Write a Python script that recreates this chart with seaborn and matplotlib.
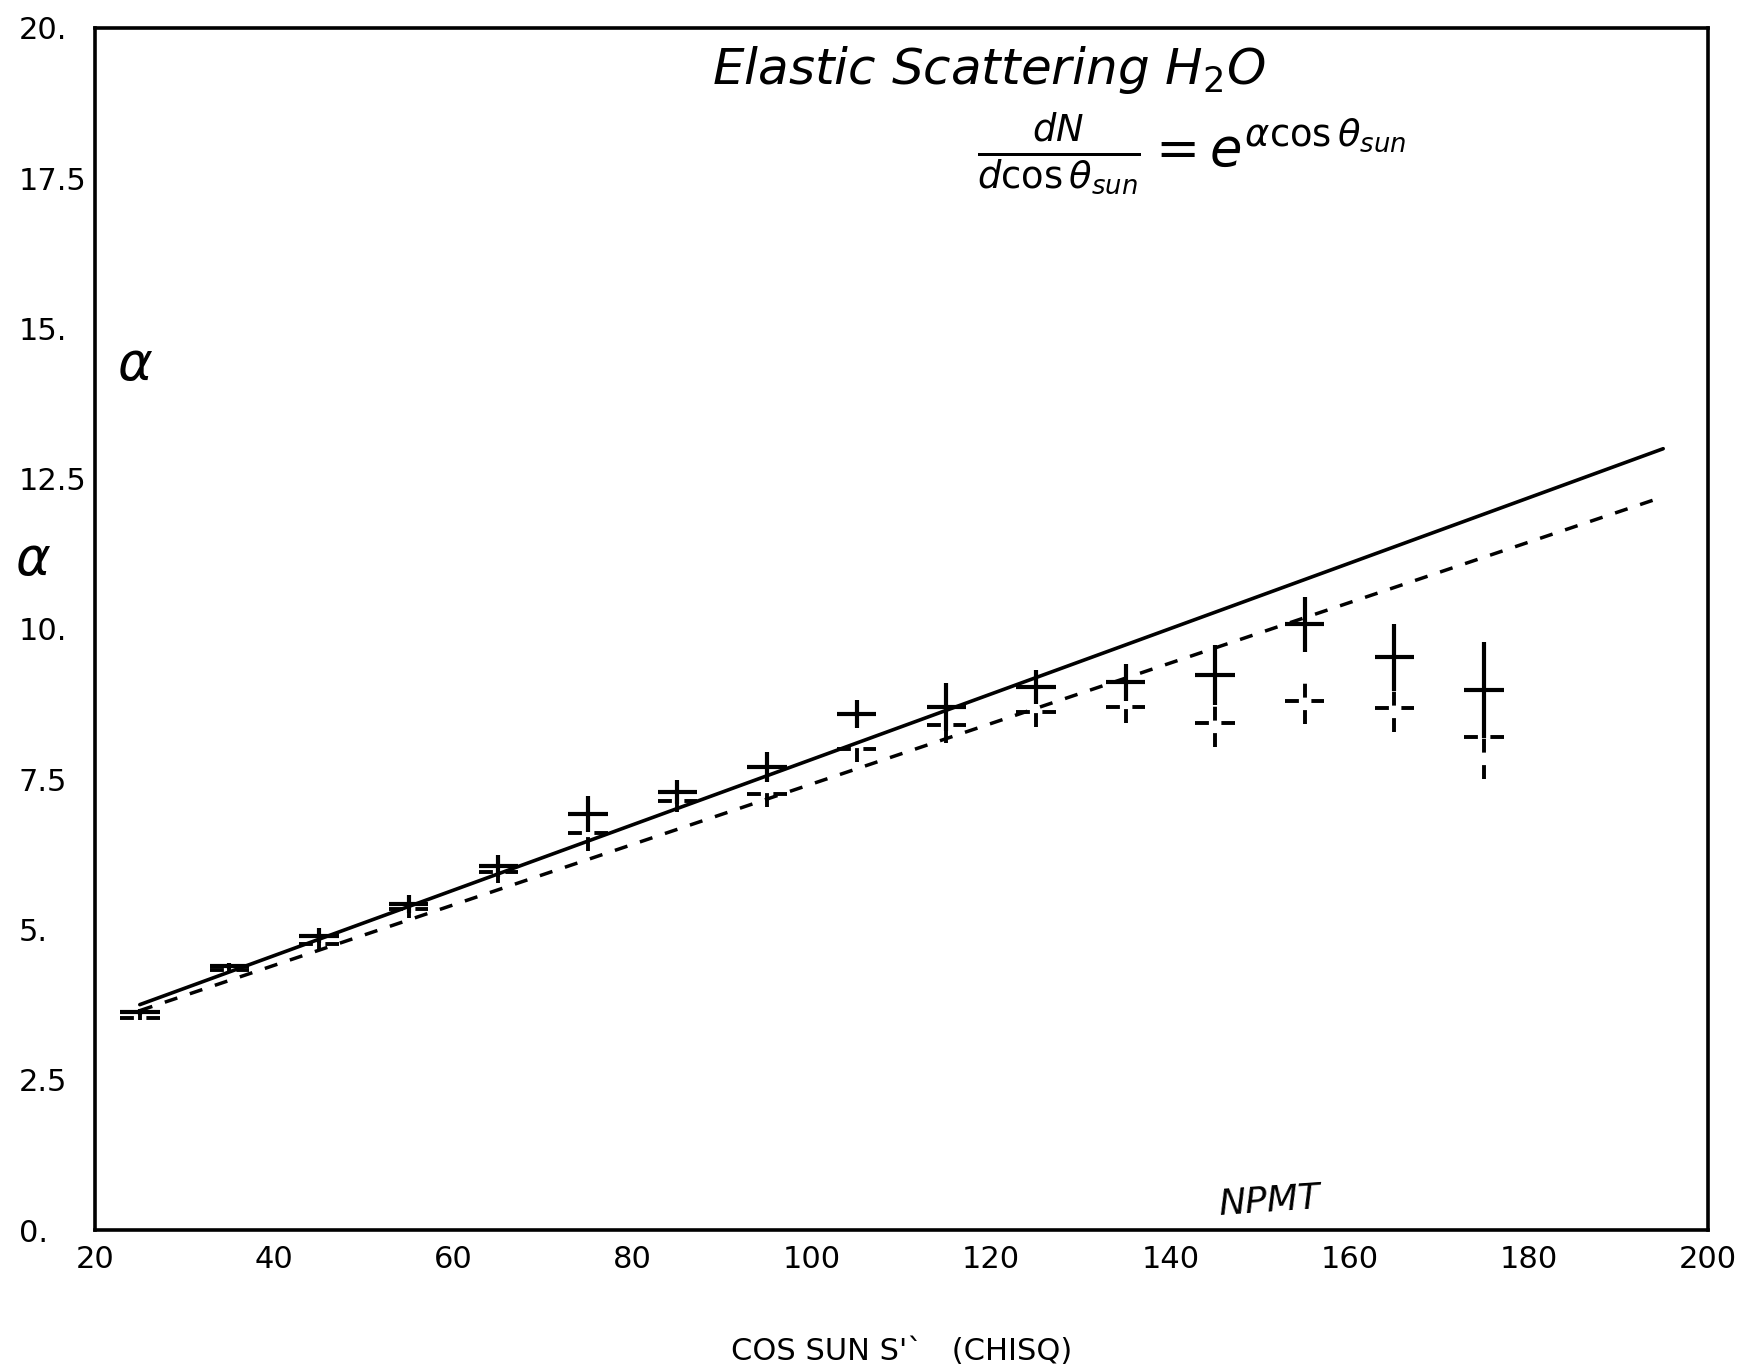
import numpy as np
import pandas as pd
import matplotlib
matplotlib.use("Agg")
import matplotlib.pyplot as plt
import seaborn as sns

# bin centres (NPMT) and fitted alpha values
npmt = [25, 35, 45, 55, 65, 75, 85, 95, 105, 115, 125, 135, 145, 155, 165, 175]
alpha_solid = [3.62, 4.40, 4.90, 5.43, 6.06, 6.92, 7.29, 7.70, 8.59, 8.70, 9.04, 9.11, 9.24, 10.08, 9.53, 8.99]
err_solid = [0.05, 0.05, 0.12, 0.15, 0.18, 0.30, 0.20, 0.25, 0.23, 0.40, 0.28, 0.30, 0.50, 0.46, 0.56, 0.80]
alpha_dashed = [3.53, 4.33, 4.76, 5.34, 5.95, 6.61, 7.14, 7.25, 8.00, 8.40, 8.62, 8.71, 8.43, 8.81, 8.68, 8.20]
err_dashed = [0.04, 0.05, 0.12, 0.15, 0.18, 0.30, 0.18, 0.22, 0.22, 0.30, 0.25, 0.28, 0.40, 0.39, 0.40, 0.70]
bin_halfwidth = 2.2

# straight-line fits
fit_x = [25, 195]
fit_solid = [3.75, 13.0]
fit_dashed = [3.65, 12.2]

x_ticks = [20, 40, 60, 80, 100, 120, 140, 160, 180, 200]
y_ticks = [0, 2.5, 5, 7.5, 10, 12.5, 15, 17.5, 20]
y_labels = ["0.", "2.5", "5.", "7.5", "10.", "12.5", "15.", "17.5", "20."]

sns.set_style("white")
plt.rcParams["font.family"] = ["Liberation Sans Narrow", "DejaVu Sans"]
plt.rcParams["lines.scale_dashes"] = False
plt.rcParams["mathtext.fontset"] = "dejavusans"
for key in ["text.color", "axes.labelcolor", "xtick.color", "ytick.color"]:
    plt.rcParams[key] = "black"

W, H = 1745, 1372
fig = plt.figure(figsize=(W / 100, H / 100), dpi=100)
ax = fig.add_axes([95 / W, 1 - 1230 / H, (1708 - 95) / W, (1230 - 28) / H])

fits = pd.DataFrame({"npmt": fit_x * 2,
                     "alpha": fit_solid + fit_dashed,
                     "fit": ["solid"] * 2 + ["dashed"] * 2})
sns.lineplot(data=fits[fits.fit == "solid"], x="npmt", y="alpha", color="black",
             linewidth=2.6, ax=ax, legend=False)
sns.lineplot(data=fits[fits.fit == "dashed"], x="npmt", y="alpha", color="black",
             linewidth=2.5, ax=ax, legend=False, linestyle=(0, (9.5, 9.5)))

# solid crosses
ax.errorbar(npmt, alpha_solid, yerr=err_solid, xerr=bin_halfwidth, fmt="none",
            ecolor="black", elinewidth=3.0, capsize=0)
# dashed crosses
eb = ax.errorbar(npmt, alpha_dashed, yerr=err_dashed, xerr=bin_halfwidth, fmt="none",
                 ecolor="black", elinewidth=2.8, capsize=0)
for lc in eb[2]:
    lc.set_linestyle((0, (10, 9)))

ax.set_xlim(20, 200)
ax.set_ylim(0, 20)
ax.set_xticks(x_ticks)
ax.set_yticks(y_ticks)
ax.set_yticklabels(y_labels)
for lab in ax.get_yticklabels():
    lab.set_horizontalalignment("left")
ax.tick_params(axis="x", direction="in", length=20, width=2.0, pad=11, labelsize=22)
ax.tick_params(axis="y", direction="in", length=16, width=2.0, pad=55, labelsize=22)
ax.tick_params(top=False, right=False)
for sp in ax.spines.values():
    sp.set_visible(True)
    sp.set_color("black")
    sp.set_linewidth(2.6)

ax.set_xlabel("COS SUN S'`   (CHISQ)", fontsize=22, labelpad=45)
ax.set_ylabel("")

# handwritten annotations
ax.text(0.554, 0.965, "Elastic Scattering H$_2$O", transform=ax.transAxes,
        fontsize=36, style="italic", ha="center", va="center", family="DejaVu Sans")
ax.text(0.68, 0.895, r"$\frac{dN}{d\cos\theta_{sun}} = e^{\alpha\cos\theta_{sun}}$",
        transform=ax.transAxes, fontsize=38, ha="center", va="center")
ax.text(0.025, 0.72, r"$\alpha$", transform=ax.transAxes, fontsize=38, ha="center", va="center")
fig.text(33 / W, 1 - 560 / H, r"$\alpha$", fontsize=38, ha="center", va="center")
ax.text(0.728, 0.024, "NPMT", transform=ax.transAxes, fontsize=26, style="italic",
        ha="center", va="center", rotation=4, family="DejaVu Sans")

fig.savefig("out.png", dpi=100)
